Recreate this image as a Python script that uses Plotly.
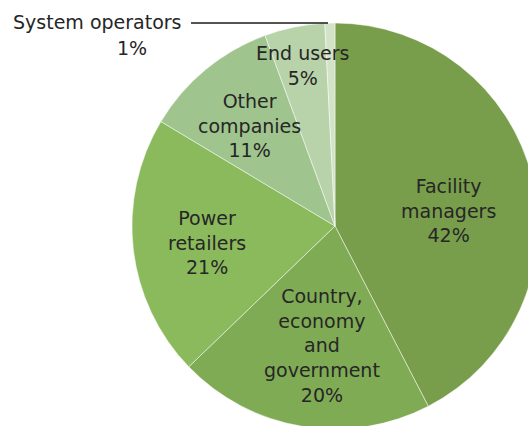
import plotly.graph_objects as go

categories = ["Facility managers", "Country, economy and government", "Power retailers",
              "Other companies", "End users", "System operators"]
shares = [42.4, 20.4, 20.8, 10.8, 4.8, 0.8]
wrapped = ["Facility<br>managers", "Country,<br>economy<br>and<br>government", "Power<br>retailers",
           "Other<br>companies", "End users", "System operators"]
colors = ["#789E4C", "#80AB55", "#8BBA5C", "#A0C48D", "#B8D3A9", "#D2E3C8"]

W, H = 540, 430
# pie geometry in pixels (center 335,226 radius 203)
cx, cy, r = 335, 226, 203

def px(x):
    return x / W

def py(y):
    return 1 - y / H

fig = go.Figure(go.Pie(
    labels=categories, values=shares, sort=False, direction="clockwise", rotation=0,
    marker=dict(colors=colors, line=dict(color="rgba(255,255,255,0.6)", width=0.8)),
    textinfo="none", showlegend=False,
    domain=dict(x=[px(cx - r), px(cx + r)], y=[py(cy + r), py(cy - r)]),
))

font = dict(family="DejaVu Sans", size=19, color="#262626")
# label centers (pixels)
label_pos = [(448, 210), (322, 345), (207, 242), (249, 125), (303, 65)]
anns = []
for i, (x, y) in enumerate(label_pos):
    anns.append(dict(x=px(x), y=py(y), xref="paper", yref="paper", showarrow=False,
                     text=f"{wrapped[i]}<br>{round(shares[i])}%", font=font, align="center",
                     xanchor="center", yanchor="middle"))
anns.append(dict(x=px(97), y=py(22), xref="paper", yref="paper", showarrow=False,
                 text=wrapped[5], font=font, xanchor="center", yanchor="middle"))
anns.append(dict(x=px(132), y=py(48), xref="paper", yref="paper", showarrow=False,
                 text=f"{round(shares[5])}%", font=font, xanchor="center", yanchor="middle"))

fig.update_layout(
    width=W, height=H, margin=dict(l=0, r=0, t=0, b=0),
    paper_bgcolor="white", plot_bgcolor="white",
    annotations=anns,
    shapes=[dict(type="line", xref="paper", yref="paper", x0=px(191), x1=px(328),
                 y0=py(23), y1=py(23), line=dict(color="#1a1a1a", width=1.5))],
)

fig.write_html("out.html", config={"displayModeBar": False},
               post_script="document.body.style.margin='0';document.body.style.overflow='hidden';")
